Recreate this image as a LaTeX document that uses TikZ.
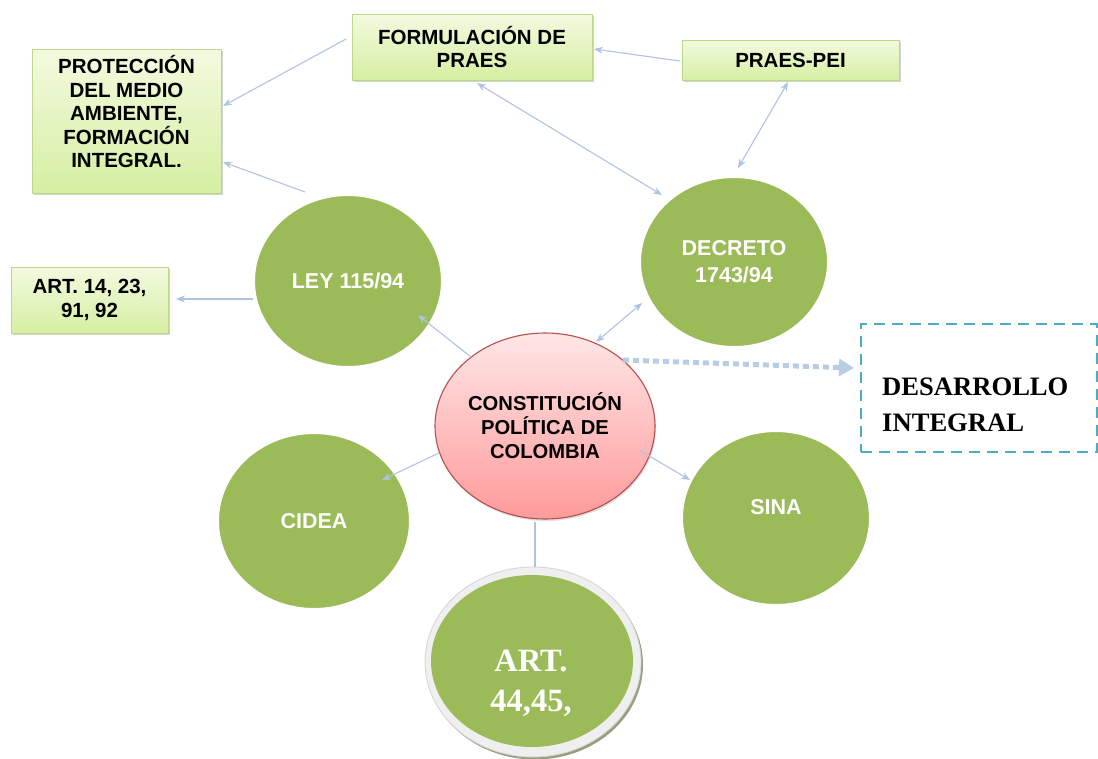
\documentclass[tikz,border=0pt]{standalone}
\usepackage{fontspec}
\newfontfamily\arialf{Liberation Sans}
\newfontfamily\tnrf{Liberation Serif}
\usetikzlibrary{shapes.geometric,arrows.meta,calc,shadows}
\definecolor{cgreen}{HTML}{9BBB59}
\definecolor{cboxb}{HTML}{BCD78A}
\definecolor{cboxt}{HTML}{F3FADF}
\definecolor{cboxbot}{HTML}{D6EFA2}
\definecolor{carrow}{HTML}{AFC3E0}
\definecolor{cdot}{HTML}{B8CCE4}
\definecolor{cteal}{HTML}{4BACC6}
\definecolor{cpinkt}{HTML}{FFE6E6}
\definecolor{cpinkb}{HTML}{FF9A9A}
\definecolor{cpinkd}{HTML}{B5504D}
\definecolor{cring}{HTML}{EFEFEF}
\definecolor{cringd}{HTML}{D4D4D4}
\definecolor{cshad}{HTML}{8C9670}
\begin{document}
\begin{tikzpicture}[x=1pt,y=-1pt,
  boxn/.style={rectangle, draw=cboxb, line width=0.8pt, top color=cboxt, bottom color=cboxbot,
    drop shadow={opacity=0.35,shadow xshift=1.5pt,shadow yshift=-2pt},
    font=\arialf\bfseries\fontsize{20.5}{23.5}\selectfont, align=center, inner sep=0pt},
  circn/.style={ellipse, fill=cgreen, draw=white, line width=4pt, inner sep=0pt,
    font=\arialf\bfseries\fontsize{21.5}{27}\selectfont, text=white, align=center,
    drop shadow={opacity=0.3,shadow xshift=0.6pt,shadow yshift=-1.6pt}},
  arr/.style={draw=carrow, line width=1.1pt, -{Stealth[length=9pt,width=7pt]}},
  darr/.style={draw=carrow, line width=1.1pt, {Stealth[length=9pt,width=7pt]}-{Stealth[length=9pt,width=7pt]}},
  plain/.style={draw=carrow, line width=1.1pt},
  dotarr/.style={draw=cdot, line width=5pt, dash pattern=on 6pt off 4pt,
    -{Triangle[length=15pt,width=17pt]}}
]
\useasboundingbox (0,0) rectangle (1098,758);

% boxes
\node[boxn, minimum width=189pt, minimum height=144pt] (prot) at (126.5,121)
  {PROTECCIÓN\\DEL MEDIO\\AMBIENTE,\\FORMACIÓN\\INTEGRAL.\\[-5pt]};
\node[boxn, minimum width=240pt, minimum height=66pt] (form) at (472,47)
  {FORMULACIÓN DE\\PRAES};
\node[boxn, minimum width=217pt, minimum height=40pt] (praes) at (790.5,60)
  {PRAES-PEI};
\node[boxn, minimum width=157pt, minimum height=66pt] (art14) at (89.5,300)
  {ART. 14, 23,\\91, 92};

% circles
\node[circn, minimum width=190pt, minimum height=174pt] (ley) at (348,281) {LEY 115/94};
\node[circn, minimum width=190pt, minimum height=172pt] (dec) at (734,262) {DECRETO\\1743/94};
\node[circn, minimum width=194pt, minimum height=178pt] (cidea) at (314,521) {CIDEA};
\node[circn, minimum width=190pt, minimum height=176pt] (sina) at (776,518) {};
\node[font=\arialf\bfseries\fontsize{21.5}{27}\selectfont, text=white] (sinatext) at (776,507) {SINA};

% central ellipse
\node[ellipse, minimum width=220pt, minimum height=186pt, inner sep=0pt,
  top color=cpinkt, bottom color=cpinkb, draw=cpinkd, line width=1.1pt,
  drop shadow={opacity=0.25,shadow xshift=1pt,shadow yshift=-2pt},
  font=\arialf\bfseries\fontsize{20.2}{24}\selectfont, align=center] (const) at (545,426)
  {CONSTITUCIÓN\\POLÍTICA DE\\COLOMBIA};

% bottom circle
\node[ellipse, minimum width=216pt, minimum height=190pt, inner sep=0pt,
  fill=cring, draw=cringd, line width=0.8pt,
  drop shadow={fill=cshad, opacity=0.9, shadow xshift=2pt, shadow yshift=-2.5pt}] (art44ring) at (533,662) {};
\node[ellipse, minimum width=202pt, minimum height=172pt, inner sep=0pt, fill=cgreen] (art44) at (532,661) {};
\node[font=\tnrf\bfseries\fontsize{32.5}{40}\selectfont, text=white, align=center] (art44text) at (531,683)
  {ART.\\44,45,};

% dashed box
\node[rectangle, draw=cteal, line width=2pt, dash pattern=on 11pt off 7pt,
  minimum width=236pt, minimum height=128pt] (des) at (979,388) {};
\node[anchor=west, inner sep=0pt, align=left, font=\tnrf\bfseries\fontsize{26.6}{36}\selectfont] (destext) at (882,404.5)
  {DESARROLLO\\INTEGRAL};

% connectors
\draw[arr] ($(form)+(-126,-8)$) -- ($(prot)+(96.5,-15)$);
\draw[arr] ($(ley)+(-43,-89)$) -- ($(prot)+(96.5,41)$);
\draw[darr] ($(form)+(5,36)$) -- ($(dec)+(-72,-67)$);
\draw[arr] ($(praes)+(-110.5,1)$) -- ($(form)+(122,2)$);
\draw[darr] ($(praes)+(-2.5,22)$) -- ($(dec)+(4,-94)$);
\draw[arr] ($(ley)+(-95,18)$) -- ($(art14)+(86.5,-1)$);
\draw[arr] ($(const)+(-74,-69)$) -- ($(ley)+(70,34)$);
\draw[arr] ($(const)+(-106,27)$) -- ($(cidea)+(68,-41)$);
\draw[plain] ($(const)+(-10,96)$) -- ($(art44ring)+(2,-95)$);
\draw[arr] ($(const)+(94,24)$) -- ($(sina)+(-86,-38)$);
\draw[darr] ($(const)+(51,-84)$) -- ($(dec)+(-92,41)$);
\draw[dotarr] ($(const)+(78,-66)$) -- ($(des)+(-125,-20)$);
\end{tikzpicture}
\end{document}
